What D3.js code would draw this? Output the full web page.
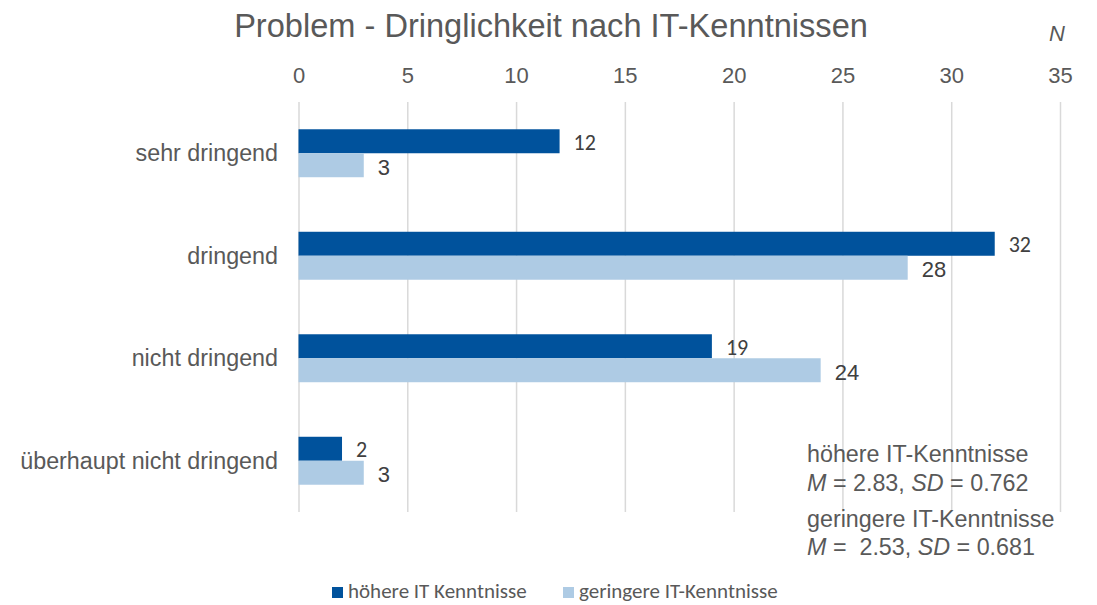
<!DOCTYPE html>
<html>
<head>
<meta charset="utf-8">
<script src="https://cdn.jsdelivr.net/npm/d3@7"></script>
<style>
  body { margin: 0; background: #fff; }
  svg { display: block; font-family: Arial, "Liberation Sans", sans-serif; }
  .axis path { display: none; }
  .axis line { stroke: #d9d9d9; stroke-width: 1.5; }
  .axis text { fill: #595959; font-size: 22px; }
</style>
</head>
<body>
<svg id="figure"></svg>
<script>
// categories from top to bottom
const categories = ["sehr dringend", "dringend", "nicht dringend", "überhaupt nicht dringend"];
const seriesNames = ["höhere IT Kenntnisse", "geringere IT-Kenntnisse"];
const higherValues = [12, 32, 19, 2];
const lowerValues = [3, 28, 24, 3];
const xTicks = [0, 5, 10, 15, 20, 25, 30, 35];
const statsLines = [
    {group: "höhere IT-Kenntnisse", m: "2.83", sd: "0.762"},
    {group: "geringere IT-Kenntnisse", m: " 2.53", sd: "0.681"}
];

const W = 1097, H = 605;
const colors = ["#00529c", "#aecbe4"];
const textColor = "#595959";

const svg = d3.select("#figure").attr("width", W).attr("height", H);

const x = d3.scaleLinear().domain([0, 35]).range([298.5, 1060]);
const y = d3.scaleBand().domain(categories).range([102, 512])
    .paddingInner(0.532).paddingOuter(0.266);
const ySub = d3.scaleBand().domain([0, 1]).range([0, y.bandwidth()]);

// title
svg.append("text")
    .attr("x", 551).attr("y", 37)
    .attr("text-anchor", "middle")
    .attr("fill", textColor)
    .style("font-size", "32.6px")
    .text("Problem - Dringlichkeit nach IT-Kenntnissen");

svg.append("text")
    .attr("x", 1057).attr("y", 41)
    .attr("text-anchor", "middle")
    .attr("fill", textColor)
    .style("font-size", "22px")
    .style("font-style", "italic")
    .text("N");

// axis + gridlines
svg.append("g")
    .attr("class", "axis")
    .attr("transform", "translate(0,102)")
    .call(d3.axisTop(x).tickValues(xTicks).tickSizeInner(-410).tickSizeOuter(0).tickPadding(19))
    .call(g => g.selectAll("text").attr("font-family", null));

// category labels
svg.append("g").selectAll("text")
    .data(categories)
    .join("text")
    .attr("x", 278)
    .attr("y", d => y(d) + y.bandwidth() / 2)
    .attr("dy", "0.35em")
    .attr("text-anchor", "end")
    .attr("fill", textColor)
    .style("font-size", "23.3px")
    .text(d => d);

// bars
const rows = categories.map((c, i) => ({cat: c, values: [higherValues[i], lowerValues[i]]}));

const groups = svg.append("g").selectAll("g")
    .data(rows)
    .join("g")
    .attr("transform", d => "translate(0," + y(d.cat) + ")");

groups.selectAll("rect")
    .data(d => d.values.map((v, k) => ({v, k})))
    .join("rect")
    .attr("x", x(0))
    .attr("y", d => ySub(d.k))
    .attr("width", d => x(d.v) - x(0))
    .attr("height", ySub.bandwidth())
    .attr("fill", d => colors[d.k]);

// value labels (first series drawn in a Calibri-like face, second in Arial-like)
groups.selectAll("text")
    .data(d => d.values.map((v, k) => ({v, k})))
    .join("text")
    .attr("x", d => x(d.v) + 14)
    .attr("y", d => ySub(d.k) + ySub.bandwidth() / 2 + (d.k === 0 ? 1 : 2))
    .attr("dy", "0.35em")
    .attr("fill", "#404040")
    .style("font-family", d => d.k === 0 ? "Calibri, Carlito, Lato, sans-serif" : null)
    .style("font-size", d => d.k === 0 ? "22px" : "22px")
    .text(d => d.v);

// stats box
const stats = svg.append("g").attr("fill", textColor).style("font-size", "23.3px");
const baselines = [[462, 491], [527, 555]];
statsLines.forEach((s, i) => {
    stats.append("text").attr("x", 807).attr("y", baselines[i][0]).text(s.group);
    const t = stats.append("text").attr("x", 807).attr("y", baselines[i][1]).attr("xml:space", "preserve");
    t.append("tspan").style("font-style", "italic").text("M");
    t.append("tspan").text(" = " + s.m + ", ");
    t.append("tspan").style("font-style", "italic").text("SD");
    t.append("tspan").text(" = " + s.sd);
});

// legend
const legendX = [332, 563];
const legend = svg.append("g").selectAll("g")
    .data(seriesNames)
    .join("g")
    .attr("transform", (d, i) => "translate(" + legendX[i] + ",587)");

legend.append("rect")
    .attr("width", 11).attr("height", 11)
    .attr("fill", (d, i) => colors[i]);

legend.append("text")
    .attr("x", 16).attr("y", 11)
    .attr("fill", textColor)
    .style("font-family", "Calibri, Carlito, Lato, sans-serif")
    .style("font-size", "21px")
    .text(d => d);
</script>
</body>
</html>
